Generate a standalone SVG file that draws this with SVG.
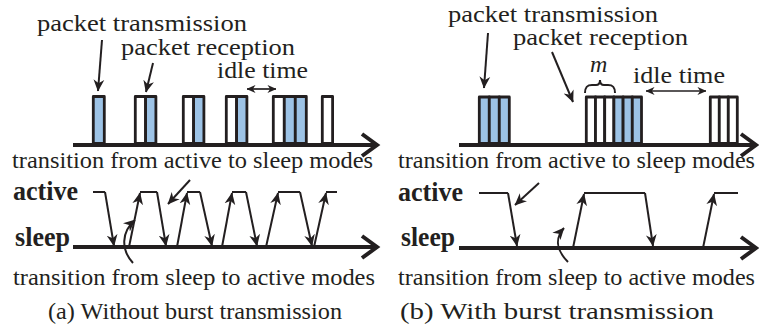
<svg xmlns="http://www.w3.org/2000/svg" width="759" height="331" viewBox="0 0 759 331">
<style>
text{font-family:"Liberation Serif","Times New Roman",Times,serif;fill:#231f20;font-size:24px}
.b{font-weight:bold;font-size:27px}
.ax{stroke:#231f20;stroke-width:4;fill:none}
.ah{stroke:#231f20;stroke-width:4;fill:none;stroke-linejoin:miter}
.ln{stroke:#231f20;stroke-width:2;fill:none}
.pa{stroke:#231f20;stroke-width:2;fill:none;marker-end:url(#arr)}
.pk{stroke:#231f20;stroke-width:2.8;stroke-linejoin:round}
.w{fill:#fff}
.bl{fill:#9dc3e6}
.idle{stroke:#231f20;stroke-width:1.7;fill:none;marker-start:url(#sa);marker-end:url(#sa)}
</style>
<defs>
<marker id="arr" viewBox="0 0 10 10" refX="9.5" refY="5" markerWidth="12" markerHeight="12" markerUnits="userSpaceOnUse" orient="auto">
<path d="M0,0.5 L10,5 L0,9.5 L3,5 z" fill="#231f20"/>
</marker>
<marker id="sa" viewBox="0 0 10 10" refX="9.5" refY="5" markerWidth="9" markerHeight="9" markerUnits="userSpaceOnUse" orient="auto-start-reverse">
<path d="M0,0.5 L10,5 L0,9.5 L3,5 z" fill="#231f20"/>
</marker>
</defs>

<!-- Panel (a) -->
<g id="panel-a">
<g id="a-packets">
<rect class="pk bl" x="93.3" y="96.5" width="11" height="47"/>
<rect class="pk w" x="135.3" y="96.5" width="10.3" height="47"/>
<rect class="pk bl" x="145.6" y="96.5" width="10.3" height="47"/>
<rect class="pk w" x="183.3" y="96.5" width="10.3" height="47"/>
<rect class="pk bl" x="193.6" y="96.5" width="10.3" height="47"/>
<rect class="pk w" x="226.3" y="96.5" width="10.3" height="47"/>
<rect class="pk bl" x="236.6" y="96.5" width="10.3" height="47"/>
<rect class="pk w" x="273.3" y="96.5" width="11" height="47"/>
<rect class="pk bl" x="284.3" y="96.5" width="11" height="47"/>
<rect class="pk bl" x="295.3" y="96.5" width="11" height="47"/>
<rect class="pk w" x="322.3" y="96.5" width="10.3" height="47"/>
</g>
<g id="a-axes">
<line class="ax" x1="73" y1="145" x2="376" y2="145"/>
<polyline class="ah" points="362,134 377,145 362,156"/>
<line class="ax" x1="73" y1="247" x2="376" y2="247"/>
<polyline class="ah" points="362,236 377,247 362,258"/>
</g>
<g id="a-labels">
<text x="37" y="31" textLength="210" lengthAdjust="spacingAndGlyphs">packet transmission</text>
<text x="121" y="55" textLength="174" lengthAdjust="spacingAndGlyphs">packet reception</text>
<text x="217" y="78" textLength="91" lengthAdjust="spacingAndGlyphs">idle time</text>
<text x="12" y="168" textLength="361" lengthAdjust="spacingAndGlyphs">transition from active to sleep modes</text>
<text class="b" x="13" y="200" textLength="65" lengthAdjust="spacingAndGlyphs">active</text>
<text class="b" x="15" y="246" textLength="55" lengthAdjust="spacingAndGlyphs">sleep</text>
<text x="13" y="285" textLength="362" lengthAdjust="spacingAndGlyphs">transition from sleep to active modes</text>
<text x="48" y="319" textLength="294" lengthAdjust="spacingAndGlyphs">(a) Without burst transmission</text>
</g>
<g id="a-connectors">
<line class="pa" x1="102" y1="40" x2="98" y2="91"/>
<line class="pa" x1="153" y1="63" x2="146" y2="92"/>
<line class="idle" x1="247" y1="89" x2="276" y2="89"/>
<line class="pa" x1="190" y1="180" x2="168" y2="204"/>
<path class="pa" d="M133,263 C121,250 121,232 135,220"/>
<path class="ln" d="M93,192 H105"/>
<line class="pa" x1="105" y1="192" x2="114" y2="246"/>
<line class="pa" x1="129" y1="247" x2="140" y2="193"/>
<path class="ln" d="M140,192 H157"/>
<line class="pa" x1="157" y1="192" x2="166" y2="246"/>
<line class="pa" x1="177" y1="247" x2="187" y2="193"/>
<path class="ln" d="M187,192 H200"/>
<line class="pa" x1="200" y1="192" x2="212" y2="246"/>
<line class="pa" x1="222" y1="247" x2="232" y2="193"/>
<path class="ln" d="M232,192 H246"/>
<line class="pa" x1="246" y1="192" x2="257" y2="246"/>
<line class="pa" x1="266" y1="247" x2="278" y2="193"/>
<path class="ln" d="M278,192 H300"/>
<line class="pa" x1="300" y1="192" x2="312" y2="246"/>
<line class="pa" x1="314" y1="247" x2="326" y2="193"/>
<path class="ln" d="M326,192 H337"/>
</g>
</g>

<!-- Panel (b) -->
<g id="panel-b">
<g id="b-packets">
<rect class="pk bl" x="479.3" y="97" width="10" height="46.5"/>
<rect class="pk bl" x="489.3" y="97" width="10" height="46.5"/>
<rect class="pk bl" x="499.3" y="97" width="10" height="46.5"/>
<rect class="pk w" x="586.3" y="97" width="9.2" height="46.5"/>
<rect class="pk w" x="595.5" y="97" width="9.2" height="46.5"/>
<rect class="pk w" x="604.7" y="97" width="9.2" height="46.5"/>
<rect class="pk bl" x="613.9" y="97" width="9.2" height="46.5"/>
<rect class="pk bl" x="623.1" y="97" width="9.2" height="46.5"/>
<rect class="pk bl" x="632.3" y="97" width="9.2" height="46.5"/>
<rect class="pk w" x="710.3" y="97" width="9" height="46.5"/>
<rect class="pk w" x="719.3" y="97" width="9" height="46.5"/>
<rect class="pk w" x="728.3" y="97" width="9" height="46.5"/>
</g>
<g id="b-axes">
<line class="ax" x1="459" y1="145" x2="755" y2="145"/>
<polyline class="ah" points="741,134 756,145 741,156"/>
<line class="ax" x1="459" y1="248" x2="755" y2="248"/>
<polyline class="ah" points="741,237 756,248 741,259"/>
</g>
<g id="b-labels">
<text x="448" y="22" textLength="210" lengthAdjust="spacingAndGlyphs">packet transmission</text>
<text x="513" y="45" textLength="175" lengthAdjust="spacingAndGlyphs">packet reception</text>
<text x="590" y="72" font-style="italic" font-size="27">m</text>
<text x="633" y="83" textLength="92" lengthAdjust="spacingAndGlyphs">idle time</text>
<text x="398" y="168" textLength="357" lengthAdjust="spacingAndGlyphs">transition from active to sleep modes</text>
<text class="b" x="398" y="201" textLength="65" lengthAdjust="spacingAndGlyphs">active</text>
<text class="b" x="401" y="246" textLength="54" lengthAdjust="spacingAndGlyphs">sleep</text>
<text x="398" y="285" textLength="357" lengthAdjust="spacingAndGlyphs">transition from sleep to active modes</text>
<text x="400" y="319" textLength="314" lengthAdjust="spacingAndGlyphs">(b) With burst transmission</text>
</g>
<g id="b-connectors">
<line class="pa" x1="488" y1="33" x2="484" y2="88"/>
<line class="pa" x1="552" y1="52" x2="573" y2="102"/>
<path class="ln" d="M585,93 C585,87 587,85 592,85 L596,85 C599,85 600,83 600,80 C600,83 601,85 604,85 L608,85 C613,85 615,87 615,93" stroke-width="2"/>
<line class="idle" x1="646" y1="91" x2="706" y2="91"/>
<line class="pa" x1="539" y1="183" x2="515" y2="205"/>
<path class="pa" d="M568,262 C556,250 555,238 564,228"/>
<path class="ln" d="M479,193 H508"/>
<line class="pa" x1="508" y1="193" x2="517" y2="246"/>
<line class="pa" x1="573" y1="248" x2="584" y2="194"/>
<path class="ln" d="M584,193 H645"/>
<line class="pa" x1="645" y1="193" x2="653" y2="246"/>
<line class="pa" x1="703" y1="248" x2="714" y2="194"/>
<path class="ln" d="M714,193 H738"/>
</g>
</g>
</svg>
